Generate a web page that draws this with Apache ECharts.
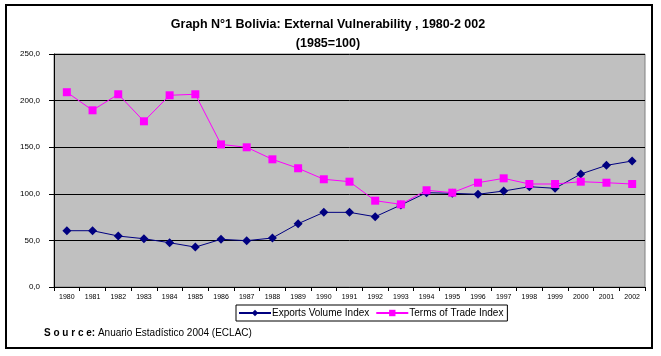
<!DOCTYPE html>
<html>
<head>
<meta charset="utf-8">
<script src="https://cdn.jsdelivr.net/npm/echarts@6/dist/echarts.min.js"></script>
<style>
  html, body { margin: 0; padding: 0; background: #fff; }
  #main { width: 661px; height: 356px; }
</style>
</head>
<body>
<div id="main"></div>
<script>
// categories (years)
var years = ['1980', '1981', '1982', '1983', '1984', '1985', '1986', '1987', '1988', '1989', '1990',
  '1991', '1992', '1993', '1994', '1995', '1996', '1997', '1998', '1999', '2000', '2001', '2002'];

// Exports Volume Index (1985=100)
var exportsVolume = [60.4, 60.4, 54.7, 51.8, 47.5, 42.8, 51.2, 49.7, 52.6, 67.9, 80.1,
  80.1, 75.4, 88.0, 101.2, 100.5, 99.5, 103.0, 107.6, 105.9, 121.2, 130.5, 135.2];

// Terms of Trade Index (1985=100)
var termsOfTrade = [209.0, 189.6, 206.8, 177.8, 205.7, 206.8, 153.0, 149.9, 137.0, 127.4, 115.6,
  113.0, 92.6, 88.7, 103.8, 101.2, 111.9, 116.6, 110.5, 110.5, 113.0, 111.9, 110.5];

var myChart = echarts.init(document.getElementById('main'));
myChart.setOption({
  backgroundColor: '#fff',
  animation: false,
  textStyle: { fontFamily: 'Liberation Sans, Arial, sans-serif' },
  title: {
    text: 'Graph N°1 Bolivia: External Vulnerability , 1980-2 002\n(1985=100)',
    left: 323,
    textAlign: 'center',
    top: 10,
    textStyle: { fontSize: 12.5, fontWeight: 'bold', color: '#000', lineHeight: 19 }
  },
  grid: {
    left: 54, top: 54, right: 16, bottom: 69,
    show: true,
    backgroundColor: '#c0c0c0',
    borderColor: '#808080',
    borderWidth: 1
  },
  legend: {
    orient: 'horizontal',
    left: 236, top: 305,
    itemWidth: 32, itemHeight: 8,
    itemGap: 6,
    padding: [3, 4, 3, 2],
    borderColor: '#000', borderWidth: 1,
    textStyle: { fontSize: 10, color: '#000', padding: [0, 0, 0, -4] },
    data: ['Exports Volume Index', 'Terms of Trade Index']
  },
  xAxis: {
    type: 'category',
    data: years,
    boundaryGap: true,
    axisLine: { lineStyle: { color: '#000', width: 1 } },
    axisTick: { show: true, alignWithLabel: false, length: 4, lineStyle: { color: '#000' } },
    axisLabel: { fontSize: 7, color: '#000', margin: 7, interval: 0 }
  },
  yAxis: {
    type: 'value',
    min: 0, max: 250, interval: 50,
    axisLine: { show: true, lineStyle: { color: '#000', width: 1 } },
    axisTick: { show: true, length: 5, lineStyle: { color: '#000' } },
    splitLine: { show: true, lineStyle: { color: '#000', width: 1 } },
    axisLabel: {
      fontSize: 8, color: '#000', margin: 14,
      formatter: function (v) { return v.toFixed(1).replace('.', ','); }
    }
  },
  series: [
    {
      name: 'Exports Volume Index',
      type: 'line',
      data: exportsVolume,
      symbol: 'diamond',
      symbolSize: 9,
      itemStyle: { color: '#000080' },
      lineStyle: { color: '#000080', width: 1 }
    },
    {
      name: 'Terms of Trade Index',
      type: 'line',
      data: termsOfTrade,
      symbol: 'rect',
      symbolSize: 8,
      itemStyle: { color: '#ff00ff' },
      lineStyle: { color: '#ff00ff', width: 1 }
    }
  ],
  graphic: [
    {
      type: 'rect',
      shape: { x: 6, y: 5, width: 646, height: 343 },
      style: { fill: 'none', stroke: '#000', lineWidth: 2 },
      silent: true
    },
    {
      type: 'text',
      left: 44, top: 328,
      style: {
        text: '{b|S o u r c e:} Anuario Estadístico 2004 (ECLAC)',
        fontSize: 10,
        fill: '#000',
        rich: { b: { fontSize: 10, fontWeight: 'bold' } }
      }
    }
  ]
});
</script>
</body>
</html>
